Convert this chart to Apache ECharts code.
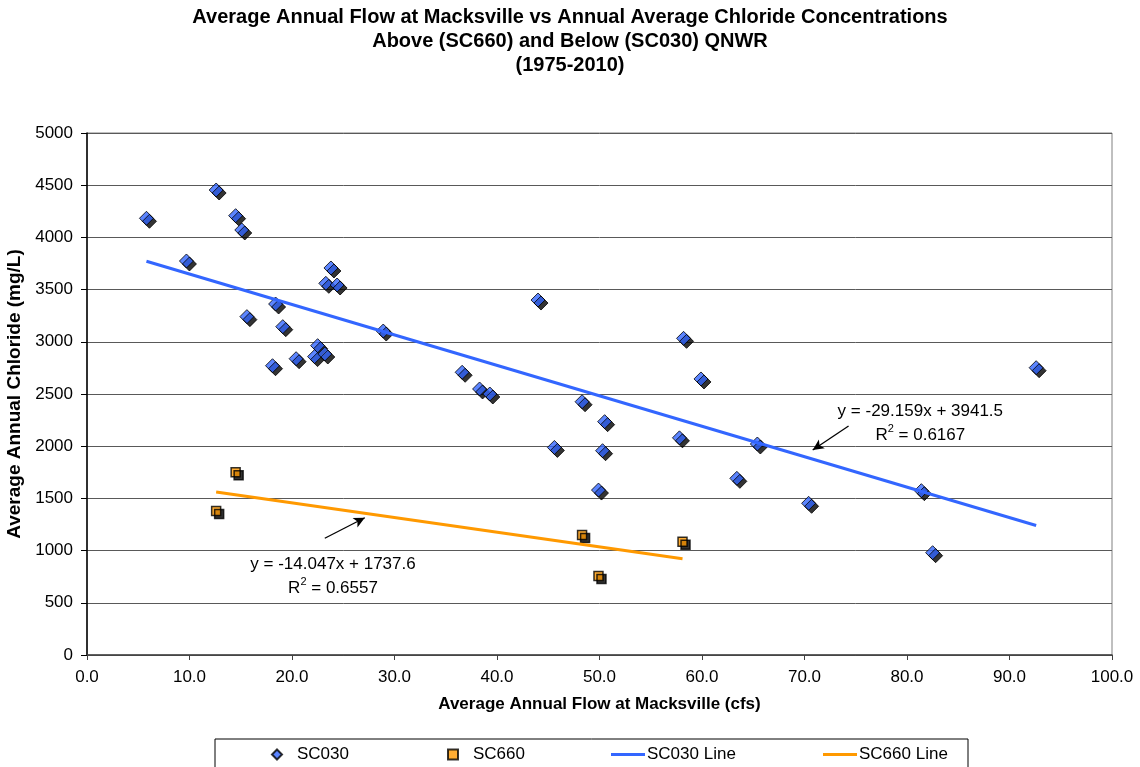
<!DOCTYPE html>
<html>
<head>
<meta charset="utf-8">
<script src="https://cdn.jsdelivr.net/npm/echarts@6/dist/echarts.min.js"></script>
<style>
html,body{margin:0;padding:0;background:#fff;}
#chart{width:1140px;height:767px;}
</style>
</head>
<body>
<div id="chart"></div>
<script>
// ---- data ----
const sc030 = [
  [5.8, 4183], [9.7, 3774], [12.6, 4454], [14.5, 4208], [15.1, 4071],
  [15.6, 3241], [18.4, 3362], [19.1, 3145], [18.1, 2771], [20.4, 2838],
  [22.5, 2963], [22.2, 2858], [23.2, 2883], [23.8, 3707], [23.3, 3560],
  [24.4, 3544], [28.9, 3103], [44.0, 3400], [36.6, 2708], [38.3, 2548],
  [39.3, 2500], [48.3, 2426], [50.5, 2235], [45.6, 1988], [50.3, 1957],
  [49.9, 1580], [57.8, 2080], [58.2, 3033], [59.9, 2644], [65.4, 2021],
  [63.4, 1692], [70.4, 1453], [81.4, 1574], [82.5, 980], [92.6, 2752]
];
const sc660 = [
  [12.6, 1379], [14.5, 1750], [48.3, 1149], [49.9, 757], [58.1, 1085]
];
const sc030Line = [[5.8, 3772], [92.6, 1241]];
const sc660Line = [[12.6, 1561], [58.1, 921]];
const sc030Eq = ['y = -29.159x + 3941.5', '0.6167'];
const sc660Eq = ['y = -14.047x + 1737.6', '0.6557'];
const titleLines = [
  'Average Annual Flow at Macksville vs Annual Average Chloride Concentrations',
  'Above (SC660) and Below (SC030) QNWR',
  '(1975-2010)'
];
const xName = 'Average Annual Flow at Macksville (cfs)';
const yName = 'Average Annual Chloride (mg/L)';
const seriesNames = ['SC030', 'SC660', 'SC030 Line', 'SC660 Line'];

const FONT = '"Liberation Sans", Arial, Helvetica, sans-serif';
const BLUE = '#3366FF';
const ORANGE = '#FF9900';

function eqLabel(eq) {
  return '{a|' + eq[0] + '}\n{a|R}{sup|2}{a| = ' + eq[1] + '}';
}
const richStyle = {
  a: {fontSize: 17, fontFamily: FONT, color: '#000', lineHeight: 24},
  sup: {fontSize: 11, fontFamily: FONT, color: '#000', verticalAlign: 'top', lineHeight: 24}
};

const chart = echarts.init(document.getElementById('chart'), null, {renderer: 'canvas'});

const noShadow = {shadowBlur: 0, shadowOffsetX: 0, shadowOffsetY: 0, shadowColor: 'rgba(0,0,0,0)'};

function legendFor(name, left, top, w, h, icon, textPadLeft, itemStyle) {
  const d = {name: name};
  if (icon) d.icon = icon;
  return {
    data: [d], left: left, top: top, padding: 0, itemWidth: w, itemHeight: h, itemGap: 0,
    selectedMode: false,
    textStyle: {fontSize: 17, fontFamily: FONT, color: '#000', padding: [0, 0, 0, textPadLeft]},
    itemStyle: Object.assign({}, noShadow, itemStyle || {})
  };
}

const option = {
  animation: false,
  backgroundColor: '#fff',
  title: {
    text: titleLines.join('\n'),
    left: 'center', top: 5, padding: 0,
    textStyle: {fontSize: 20, fontWeight: 'bold', fontFamily: FONT, color: '#000', lineHeight: 24}
  },
  legend: [
    legendFor(seriesNames[0], 271, 746, 10, 10, 'diamond', 10),
    legendFor(seriesNames[1], 447, 746, 10, 10, 'rect', 10),
    legendFor(seriesNames[2], 611, 746, 34, 3, 'rect', -3, {borderWidth: 0}),
    legendFor(seriesNames[3], 823, 746, 34, 3, 'rect', -3, {borderWidth: 0})
  ],
  graphic: [{
    type: 'rect', shape: {x: 215, y: 739, width: 753, height: 40},
    style: {fill: 'none', stroke: '#000', lineWidth: 1}, z: -1, silent: true
  }],
  grid: {left: 87, right: 28, top: 133, bottom: 112, show: true, borderColor: '#808080', borderWidth: 1,
    containLabel: false, outerBoundsMode: 'none'},
  xAxis: {
    type: 'value', min: 0, max: 100, interval: 10,
    name: xName, nameLocation: 'middle', nameGap: 41,
    nameTextStyle: {fontSize: 17, fontWeight: 'bold', fontFamily: FONT, color: '#000'},
    axisLine: {show: true, onZero: false, lineStyle: {color: '#404040', width: 1.5}},
    axisTick: {show: true, inside: false, length: 5, lineStyle: {color: '#404040'}},
    axisLabel: {fontSize: 17, fontFamily: FONT, color: '#000', margin: 14,
      formatter: function (v) { return v.toFixed(1); }},
    splitLine: {show: false}
  },
  yAxis: {
    type: 'value', min: 0, max: 5000, interval: 500,
    name: yName, nameLocation: 'middle', nameGap: 58,
    nameTextStyle: {fontSize: 19, fontWeight: 'bold', fontFamily: FONT, color: '#000'},
    axisLine: {show: true, onZero: false, lineStyle: {color: '#000', width: 1.5}},
    axisTick: {show: true, inside: false, length: 6, lineStyle: {color: '#000'}},
    axisLabel: {fontSize: 17, fontFamily: FONT, color: '#000', margin: 14,
      formatter: function (v) { return String(v); }},
    splitLine: {show: true, lineStyle: {color: '#595959', width: 1}}
  },
  series: [
    {
      name: seriesNames[0], type: 'scatter', data: sc030, symbol: 'diamond', symbolSize: 14, z: 3,
      itemStyle: {color: BLUE, borderColor: '#000', borderWidth: 1,
        shadowColor: '#000', shadowBlur: 0, shadowOffsetX: 3, shadowOffsetY: 3}
    },
    {
      name: seriesNames[1], type: 'scatter', data: sc660, symbol: 'rect', symbolSize: 9, z: 3,
      itemStyle: {color: ORANGE, borderColor: '#000', borderWidth: 1.5,
        shadowColor: '#000', shadowBlur: 0, shadowOffsetX: 3, shadowOffsetY: 3}
    },
    {
      name: seriesNames[2], type: 'line', data: sc030Line, symbol: 'none', z: 4,
      lineStyle: {color: BLUE, width: 3}, itemStyle: {color: BLUE},
      markPoint: {
        silent: true, symbol: 'circle', symbolSize: 0,
        data: [{coord: [81.3, 2222]}],
        label: {show: true, position: 'inside', formatter: eqLabel(sc030Eq), rich: richStyle, align: 'center'}
      },
      markLine: {
        silent: true, symbol: ['none', 'arrow'], symbolSize: [8, 11],
        lineStyle: {color: '#000', width: 1.3, type: 'solid'}, label: {show: false},
        data: [[{coord: [74.3, 2194]}, {coord: [70.8, 1964]}]]
      }
    },
    {
      name: seriesNames[3], type: 'line', data: sc660Line, symbol: 'none', z: 4,
      lineStyle: {color: ORANGE, width: 3}, itemStyle: {color: ORANGE},
      markPoint: {
        silent: true, symbol: 'circle', symbolSize: 0,
        data: [{coord: [24.0, 752]}],
        label: {show: true, position: 'inside', formatter: eqLabel(sc660Eq), rich: richStyle, align: 'center'}
      },
      markLine: {
        silent: true, symbol: ['none', 'arrow'], symbolSize: [8, 11],
        lineStyle: {color: '#000', width: 1.3, type: 'solid'}, label: {show: false},
        data: [[{coord: [23.2, 1118]}, {coord: [27.1, 1315]}]]
      }
    }
  ]
};
chart.setOption(option);
</script>
</body>
</html>
